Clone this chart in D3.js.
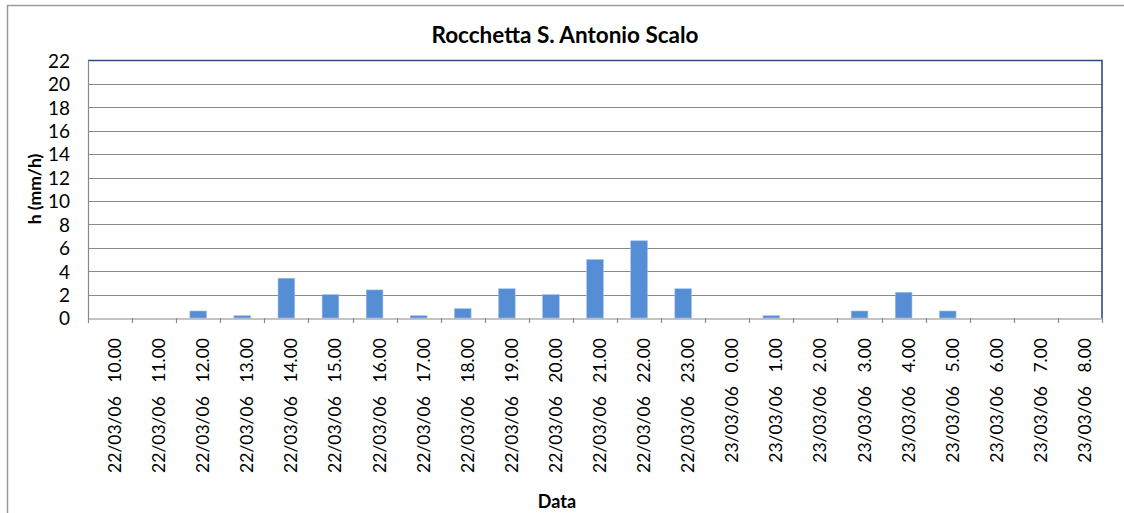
<!DOCTYPE html>
<html><head><meta charset="utf-8">
<script src="https://cdn.jsdelivr.net/npm/d3@7"></script>
<style>
html,body{margin:0;padding:0;background:#fff;}
text{font-family:Lato,"Liberation Sans",sans-serif;fill:#000;}
.xl text{white-space:pre;}
</style></head>
<body><svg id="c" width="1124" height="513"></svg>
<script>
const dates = ["22/03/06","22/03/06","22/03/06","22/03/06","22/03/06","22/03/06","22/03/06","22/03/06","22/03/06","22/03/06","22/03/06","22/03/06","22/03/06","22/03/06","23/03/06","23/03/06","23/03/06","23/03/06","23/03/06","23/03/06","23/03/06","23/03/06","23/03/06"];
const hours = ["10.00","11.00","12.00","13.00","14.00","15.00","16.00","17.00","18.00","19.00","20.00","21.00","22.00","23.00","0.00","1.00","2.00","3.00","4.00","5.00","6.00","7.00","8.00"];
const values = [0,0,0.6,0.2,3.4,2.0,2.4,0.2,0.8,2.5,2.0,5.0,6.6,2.5,0,0.2,0,0.6,2.2,0.6,0,0,0];
const yTicks = [0,2,4,6,8,10,12,14,16,18,20,22];
const title = "Rocchetta S. Antonio Scalo";
const yTitle = "h (mm/h)";
const xTitle = "Data";

const svg = d3.select("#c");
const L = 88, R = 1102, T = 60.5, B = 318;
const cats = hours.map((h,i)=>i);
const x = d3.scaleBand().domain(cats).range([L,R]).paddingInner(0.62).paddingOuter(0.31);
const xb = d3.scaleBand().domain(cats).range([L,R]);
const y = d3.scaleLinear().domain([0,22]).range([B,T]);

// outer frame
svg.append("rect").attr("x",7.5).attr("y",5.5).attr("width",1130).attr("height",520)
  .attr("fill","none").attr("stroke","#9a9a9a").attr("stroke-width",1.5);

// gridlines
svg.append("g").selectAll("line").data(yTicks.filter(d=>d>0&&d<22)).join("line")
  .attr("x1",L).attr("x2",R).attr("y1",d=>Math.round(y(d))+0.5).attr("y2",d=>Math.round(y(d))+0.5)
  .attr("stroke","#8a8a8a").attr("stroke-width",1.2);

// bars
svg.append("g").selectAll("rect").data(values).join("rect")
  .attr("x",(d,i)=>x(i)).attr("width",x.bandwidth())
  .attr("y",d=>y(d)).attr("height",d=>B-y(d))
  .attr("fill","#558ED5").attr("stroke","#a9c4ea").attr("stroke-width",0.6);

// plot border top/right
svg.append("path").attr("d",`M${L},${T}H${R}V${B}`).attr("fill","none")
  .attr("stroke","#2e4d7b").attr("stroke-width",1.6);

// left axis
svg.append("line").attr("x1",L+0.5).attr("x2",L+0.5).attr("y1",T).attr("y2",B)
  .attr("stroke","#8a8a8a").attr("stroke-width",1.2);

// y axis labels
const ya = d3.axisLeft(y).tickValues(yTicks).tickSize(0).tickPadding(0).tickFormat(d3.format("d"));
const gy = svg.append("g").attr("transform",`translate(${L-18},0)`).call(ya);
gy.select(".domain").remove();
gy.selectAll("text").attr("font-size",19).attr("dy","0.36em").style("font-family","Lato,sans-serif").attr("fill","#000");

// x axis
const xa = d3.axisBottom(xb).tickSize(0).tickFormat(()=> "");
const gx = svg.append("g").attr("transform",`translate(0,${B+0.5})`).call(xa);
gx.select(".domain").attr("stroke","#8a8a8a").attr("stroke-width",1.2);
// tick marks at boundaries
const bounds = cats.map(i=>xb(i)).concat([R]);
svg.append("g").selectAll("line").data(bounds).join("line")
  .attr("x1",d=>Math.round(d)+0.5).attr("x2",d=>Math.round(d)+0.5).attr("y1",B).attr("y2",B+5)
  .attr("stroke","#8a8a8a").attr("stroke-width",1.2);

// x labels
svg.append("g").attr("class","xl").selectAll("text").data(cats).join("text")
  .attr("transform",i=>`translate(${xb(i)+xb.bandwidth()/2+11},338) rotate(-90)`)
  .attr("text-anchor","end").attr("font-size",17.5)
  .text(i=>dates[i]+"   "+hours[i]);

// titles
svg.append("text").attr("x",565).attr("y",43).attr("text-anchor","middle")
  .attr("font-size",22.5).attr("font-weight","bold").text(title);
svg.append("text").attr("transform",`translate(41,189) rotate(-90)`).attr("text-anchor","middle")
  .attr("font-size",17.5).attr("font-weight","bold").text(yTitle);
svg.append("text").attr("x",557).attr("y",508).attr("text-anchor","middle")
  .attr("font-size",18).attr("font-weight","bold").text(xTitle);
</script></body></html>
